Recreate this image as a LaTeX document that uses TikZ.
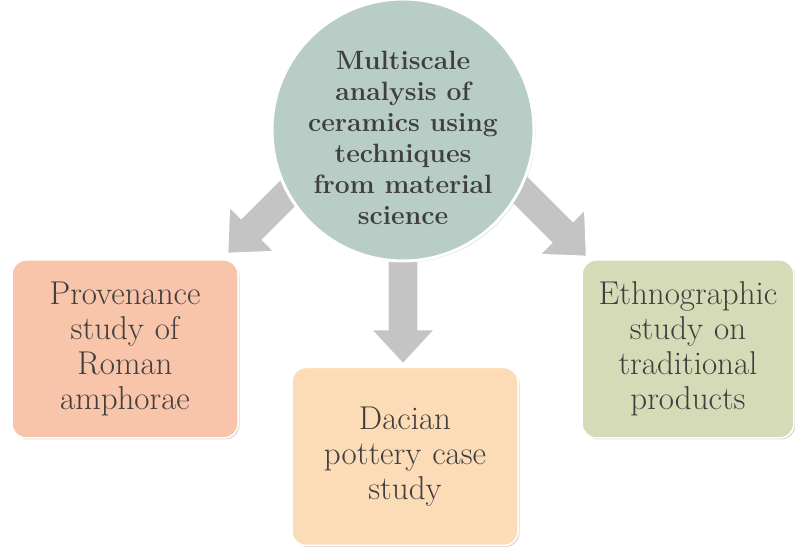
\documentclass[tikz,border=0pt]{standalone}
\usetikzlibrary{calc,shadows}
\definecolor{circfill}{HTML}{B7CDC5}
\definecolor{leftfill}{HTML}{F8C4AA}
\definecolor{botfill}{HTML}{FCDCB6}
\definecolor{rightfill}{HTML}{D6DBB7}
\definecolor{txt}{HTML}{3F3F3F}
\definecolor{arrowgray}{HTML}{C4C4C4}
\tikzset{
  pics/blockarrow/.style={code={
    \path[fill=arrowgray, draw=white, line width=1.2pt, line join=miter]
      (0,0) -- (-34,31.5) -- (-34,15) -- (-#1,15) -- (-#1,-15)
      -- (-34,-15) -- (-34,-31.5) -- cycle;}},
  box/.style={rounded corners=14pt, draw=white, line width=1.5pt,
    minimum width=226pt, minimum height=178pt, text width=215pt,
    align=center, text=txt, font=\fontsize{33}{35}\selectfont,
    drop shadow={shadow xshift=1.5pt, shadow yshift=-1.5pt, opacity=0.3}},
  hubstyle/.style={circle, minimum size=262pt, inner sep=0pt, fill=circfill,
    draw=white, line width=3pt,
    drop shadow={shadow xshift=1.5pt, shadow yshift=-1.5pt, opacity=0.3}},
  hubtextstyle/.style={align=center, text=txt,
    font=\bfseries\fontsize{26.5}{31}\selectfont}
}
\begin{document}
\begin{tikzpicture}[x=1pt,y=1pt]
\useasboundingbox (0,0) rectangle (795,548);
\node[box, fill=leftfill] (left) at (125,199) {Provenance\\study of\\Roman\\amphorae};
\node[box, fill=botfill] (bottom) at (405,91.5) {Dacian\\pottery case\\study};
\node[box, fill=rightfill, minimum width=211pt, text width=205pt] (right) at (688,199) {Ethnographic\\study on\\traditional\\products};
\pic[rotate=-135] at ($(left.north east)+(-11,6)$) {blockarrow=130};
\pic[rotate=-90] at ($(bottom.north)+(-2,3)$) {blockarrow=140};
\pic[rotate=-45] at ($(right.north west)+(5,3)$) {blockarrow=130};
\node[hubstyle] (hub) at (403,418) {};
\node[hubtextstyle] (hubtext) at ($(hub.center)+(0,-8)$) {Multiscale\\analysis of\\ceramics using\\techniques\\from material\\science};
\end{tikzpicture}
\end{document}
